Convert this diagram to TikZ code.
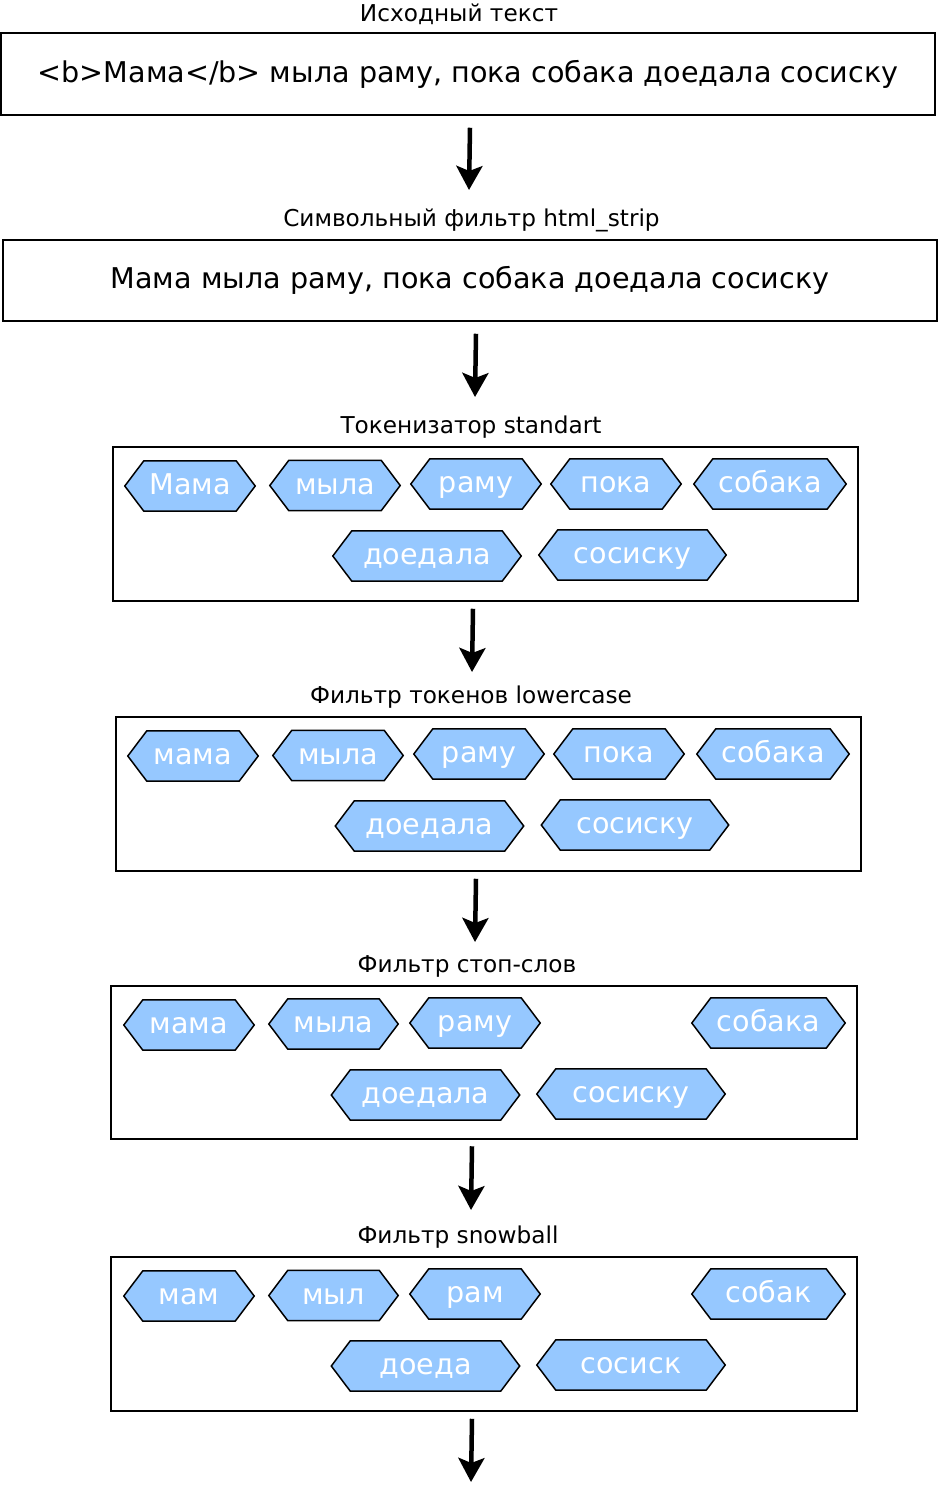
\documentclass[tikz,border=0pt]{standalone}
\usepackage{fontspec}
\setmainfont{DejaVu Sans}
\usetikzlibrary{arrows.meta, backgrounds}
\definecolor{tokenblue}{RGB}{150,200,255}

\tikzset{
  title/.style={inner sep=0pt, font=\fontsize{23.2}{27}\selectfont},
  stage/.style={draw, line width=1.5pt, inner sep=0pt, font=\fontsize{28.6}{32}\selectfont},
  hex/.style={draw, line width=1.5pt, fill=tokenblue},
  token/.style={text=white, inner sep=0pt, text height=17pt, text depth=0pt,
    minimum height=50pt, font=\fontsize{28.6}{32}\selectfont,
    append after command={\pgfextra{\begin{pgfonlayer}{background}
      \draw[hex] (\tikzlastnode.west) -- ([xshift=19pt]\tikzlastnode.north west)
        -- ([xshift=-19pt]\tikzlastnode.north east) -- (\tikzlastnode.east)
        -- ([xshift=-19pt]\tikzlastnode.south east)
        -- ([xshift=19pt]\tikzlastnode.south west) -- cycle;
      \end{pgfonlayer}}}},
  flow/.style={line width=4.5pt, -{Stealth[length=24pt, width=26pt, inset=5pt]}}
}

\begin{document}
\begin{tikzpicture}[x=1pt, y=-1pt]

        \useasboundingbox (0,0) rectangle (938,1490);

        % source text and html_strip
        \node[title] (t1) at (459, 14) {Исходный текст};
        \node[stage, minimum width=934pt, minimum height=82pt] (src) at (468, 74)
          {<b>Мама</b> мыла раму, пока собака доедала сосиску};

        \node[title] (t2) at (471.5, 220) {Символьный фильтр html\_strip};
        \node[stage, minimum width=934pt, minimum height=81pt] (strip) at (470, 280.5)
          {Мама мыла раму, пока собака доедала сосиску};

        % token stages
        \node[title] (t3) at (471, 427) {Токенизатор standart};
        \node[stage, minimum width=745pt, minimum height=154pt] (tok) at (485.5, 524) {};

        \node[title] (t4) at (471, 697) {Фильтр токенов lowercase};
        \node[stage, minimum width=745pt, minimum height=154pt] (low) at (488.5, 794) {};

        \node[title] (t5) at (467, 966) {Фильтр стоп-слов};
        \node[stage, minimum width=746pt, minimum height=153pt] (stop) at (484, 1062.5) {};

        \node[title] (t6) at (458, 1237) {Фильтр snowball};
        \node[stage, minimum width=746pt, minimum height=154pt] (stem) at (484, 1334) {};

        % tokens
        \foreach \w/\x/\y/\len [count=\i] in {Мама/190/486/130, мыла/335/485.5/130,
            раму/476/484/130, пока/616/484/130, собака/770/484/152,
            доедала/427/556/188, сосиску/632.5/555/187}
          \node[token, minimum width=\len pt] (tok-\i) at (\x, \y) {\w};

        \foreach \w/\x/\y/\len [count=\i] in {мама/193/756/130, мыла/338/755.5/130,
            раму/479/754/130, пока/619/754/130, собака/773/754/152,
            доедала/429.5/826/188, сосиску/635/825/187}
          \node[token, minimum width=\len pt] (low-\i) at (\x, \y) {\w};

        \foreach \w/\x/\y/\len [count=\i] in {мама/189/1025/130, мыла/333.5/1024/129,
            раму/475/1023/130, собака/768.5/1023/153,
            доедала/425.5/1095/188, сосиску/631/1094/188}
          \node[token, minimum width=\len pt] (stop-\i) at (\x, \y) {\w};

        \foreach \w/\x/\y/\len [count=\i] in {мам/189/1296/130, мыл/333.5/1295.5/129,
            рам/475/1294/130, собак/768.5/1294/153,
            доеда/425.5/1366/188, сосиск/631/1365/188}
          \node[token, minimum width=\len pt] (stem-\i) at (\x, \y) {\w};

        % arrows
        \coordinate (out) at (471, 1482);

        \draw[flow] ([xshift=2pt, yshift=-12pt]src.south) -- ([xshift=-2.5pt, yshift=30pt]t2.center);
        \draw[flow] ([xshift=6pt, yshift=-12pt]strip.south) -- ([xshift=4pt, yshift=30pt]t3.center);
        \draw[flow] ([xshift=-12.5pt, yshift=-7pt]tok.south) -- ([xshift=1pt, yshift=25pt]t4.center);
        \draw[flow] ([xshift=-12.5pt, yshift=-7pt]low.south) -- ([xshift=8pt, yshift=24pt]t5.center);
        \draw[flow] ([xshift=-12pt, yshift=-6.5pt]stop.south) -- ([xshift=13pt, yshift=27pt]t6.center);
        \draw[flow] ([xshift=-12pt, yshift=-7pt]stem.south) -- (out);

      \end{tikzpicture}
\end{document}
